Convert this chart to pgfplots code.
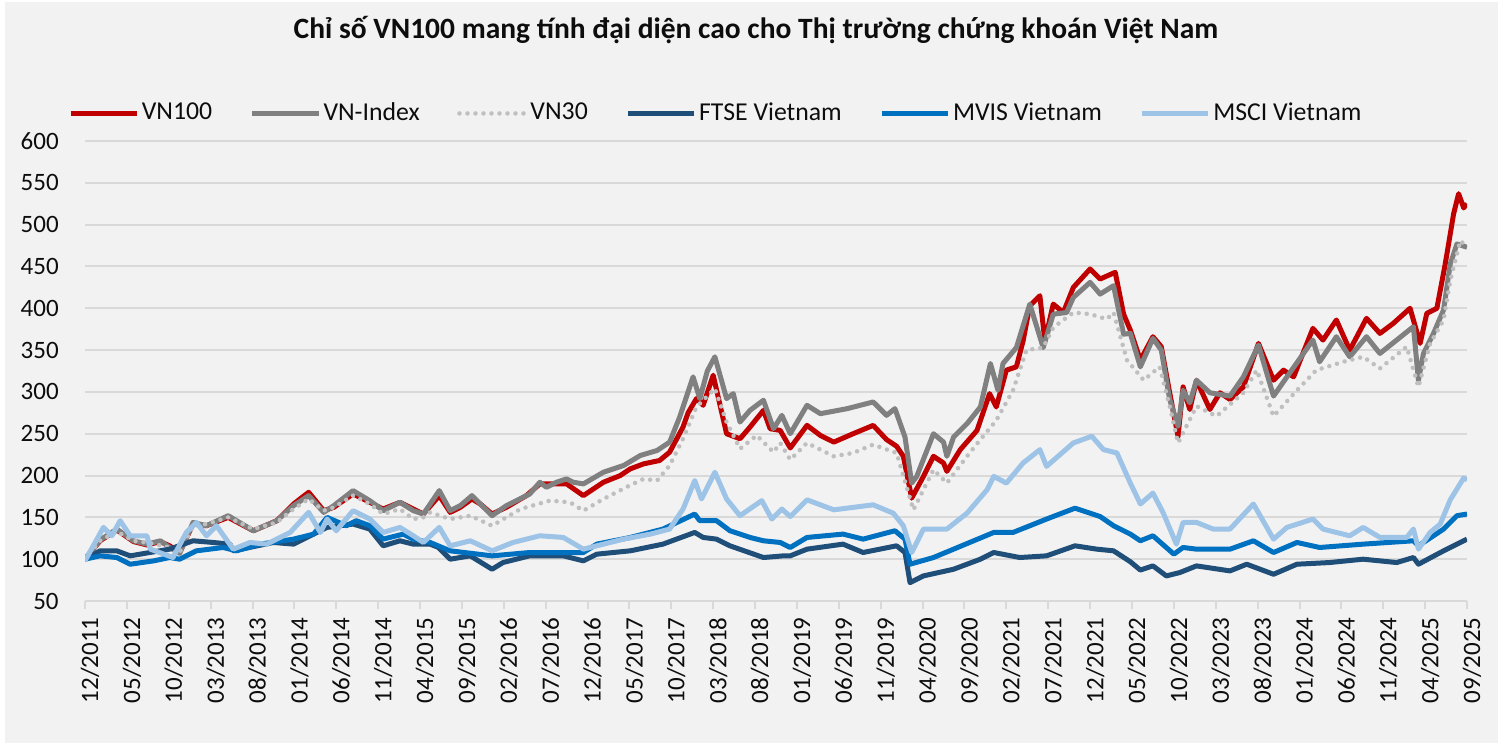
\documentclass[border=0pt]{standalone}
\usepackage{pgfplots}
\pgfplotsset{compat=1.18}
\usepackage{fontspec}
\setmainfont{Carlito}
\definecolor{bgc}{HTML}{F2F2F2}
\definecolor{gridc}{HTML}{D9D9D9}
\definecolor{cvn}{HTML}{C00000}
\definecolor{cidx}{HTML}{808080}
\definecolor{cvn30}{HTML}{BFBFBF}
\definecolor{cftse}{HTML}{1F4E79}
\definecolor{cmvis}{HTML}{0070C0}
\definecolor{cmsci}{HTML}{9DC3E6}
\definecolor{txt}{HTML}{0D0D0D}
\begin{document}
\begin{tikzpicture}
\useasboundingbox (0pt,0pt) rectangle (601.2pt,298pt);
\fill[white] (0pt,0pt) rectangle (601.2pt,298pt);
\fill[bgc] (2pt,0.8pt) rectangle (599.2pt,297.2pt);
\node[text=txt,font=\fontsize{11.8}{14}\selectfont\bfseries] at (302.4pt,286pt) {Chỉ số VN100 mang tính đại diện cao cho Thị trường chứng khoán Việt Nam};
\begin{axis}[
  at={(34pt,57.6pt)}, anchor=south west,
  scale only axis, width=552.8pt, height=184pt,
  xmin=0, xmax=165, ymin=50, ymax=600,
  ytick={50,100,...,600},
  xtick={0,5,...,165},
  xticklabels={12/2011,05/2012,10/2012,03/2013,08/2013,01/2014,06/2014,11/2014,04/2015,09/2015,02/2016,07/2016,12/2016,05/2017,10/2017,03/2018,08/2018,01/2019,06/2019,11/2019,04/2020,09/2020,02/2021,07/2021,12/2021,05/2022,10/2022,03/2023,08/2023,01/2024,06/2024,11/2024,04/2025,09/2025},
  axis lines*=left,
  axis line style={-},
  y axis line style={draw=none},
  x axis line style={draw=gridc, line width=0.8pt},
  ymajorgrids, major grid style={draw=gridc, line width=0.8pt},
  ytick style={draw=none},
  xtick style={draw=gridc, line width=0.8pt},
  tick align=outside, major tick length=3pt,
  /pgf/number format/assume math mode=true,
  tick label style={font=\fontsize{10}{12}\selectfont, text=txt},
  yticklabel style={xshift=-4pt},
  xticklabel style={rotate=90, anchor=east, xshift=0pt, yshift=-2pt},
  legend columns=6,
  legend cell align=left,
  legend style={draw=none, fill=none, at={(-0.018,1.06)}, anchor=west,
    font=\fontsize{10.3}{12}\selectfont, text=txt,
    /tikz/every odd column/.append style={column sep=-1pt},
    /tikz/every even column/.append style={column sep=13pt}},
  legend image code/.code={\draw[#1] (0pt,0pt) -- (26.5pt,0pt);},
  line join=round,
]
\addplot[cvn, line width=2pt] coordinates {
(0,100)(1.8,122)(3.8,135)(5.8,121)(7.4,117)(9,121)(10.1,116)(11.3,108)(12.9,142)(14.5,140)(17.1,150)(20.1,134)(22.9,146)(24.9,166)(26.7,180)(28.5,158)(29.7,162)(32.0,178)(34.0,168)(35.6,160)(37.6,168)(39.2,160)(40.4,154)(42.3,176)(43.6,156)(44.8,162)(46.2,172)(47.2,166)(48.6,154)(50.3,162)(52.7,176)(54.3,190)(56.3,190)(57.5,190)(59.5,176)(61.9,192)(63.9,200)(65.1,208)(66.7,214)(68.6,218)(69.8,228)(71.4,258)(72.0,275)(73.0,292)(73.8,284)(75.0,320)(76.6,250)(78.2,244)(79.4,258)(81.0,278)(81.8,256)(83.0,254)(84.2,233)(86.2,260)(87.8,248)(89.4,240)(91.7,250)(94.1,260)(95.7,243)(96.9,235)(97.7,223)(98.7,173)(100.1,199)(101.3,223)(102.5,215)(102.9,205)(104.5,231)(106.5,254)(108.0,298)(108.8,282)(110.0,326)(111.2,330)(112.0,361)(112.8,403)(114.0,415)(114.6,361)(115.6,405)(116.8,395)(118.0,425)(120.0,447)(121.2,435)(123.0,443)(124.0,393)(124.8,374)(126.0,338)(127.5,366)(128.5,354)(129.5,299)(130.5,247)(131.1,306)(131.9,279)(132.7,314)(134.3,279)(135.5,299)(136.7,291)(138.3,306)(140.1,358)(141.9,314)(143.1,326)(144.3,318)(146.6,376)(147.8,362)(149.4,386)(151.0,350)(153.0,388)(154.6,370)(156.2,382)(158.2,400)(159.4,358)(160.2,394)(161.4,400)(162.4,453)(163.4,513)(164.0,537)(164.6,520)(165.0,525)
};
\addlegendentry{VN100}
\addplot[cidx, line width=2pt] coordinates {
(0,100)(1.8,123)(3.8,136)(5.8,122)(7.4,118)(9,122)(10.1,114)(11.3,107)(12.9,144)(14.5,140)(17.1,152)(20.1,134)(22.9,146)(24.9,164)(26.7,176)(28.5,156)(29.7,164)(32.0,182)(34.0,170)(35.6,158)(37.6,168)(39.2,158)(40.4,154)(42.3,182)(43.6,158)(44.8,164)(46.2,176)(47.2,166)(48.6,152)(50.3,164)(51.9,172)(53.1,178)(54.3,192)(55.1,186)(56.3,192)(57.5,196)(58.3,192)(59.5,190)(61.9,204)(64.3,212)(66.3,224)(68.3,230)(69.8,240)(71.0,270)(72.0,300)(72.6,318)(73.4,292)(74.3,325)(75.2,342)(76.6,292)(77.4,298)(78.2,264)(79.4,278)(81.0,290)(82.2,256)(83.2,272)(84.2,250)(86.2,284)(87.8,274)(91.0,280)(94.1,288)(95.7,272)(96.7,280)(97.9,246)(98.7,191)(99.3,199)(101.3,250)(102.5,240)(102.9,223)(103.7,246)(105.3,262)(106.9,282)(108.1,334)(109.0,302)(109.6,334)(111.2,353)(112.8,405)(114.4,353)(115.6,393)(117.2,395)(118.0,413)(120.0,431)(121.2,417)(122.8,427)(124.0,369)(124.8,370)(126.0,330)(127.5,364)(128.5,350)(129.5,291)(130.5,259)(131.1,302)(131.9,287)(132.7,314)(134.3,299)(136.7,295)(138.3,318)(140.1,356)(141.9,295)(143.5,318)(146.6,362)(147.4,336)(149.4,366)(151.0,342)(153.0,366)(154.6,346)(156.6,362)(158.6,378)(159.2,314)(159.8,346)(161.0,370)(162.2,398)(163.0,453)(163.8,477)(165.0,473)
};
\addlegendentry{VN-Index}
\addplot[cvn30, line width=1.8pt, line cap=round, dash pattern=on 0pt off 3.2pt] coordinates {
(0,100)(1.8,122)(3.8,133)(5.8,122)(7.4,120)(10.1,114)(11.3,108)(12.9,140)(14.5,142)(17.1,150)(20.1,136)(22.9,144)(24.9,160)(26.7,172)(28.5,158)(29.7,162)(32.0,176)(34.0,166)(35.6,154)(37.6,160)(39.2,148)(40.4,150)(41.2,156)(43.6,148)(46.0,152)(48.6,140)(52.0,160)(55.5,170)(57.9,168)(59.5,158)(61.9,172)(65.0,188)(66.7,196)(68.3,194)(69.8,212)(71.4,244)(73.0,282)(75.2,304)(76.6,264)(78.2,232)(80.2,248)(82.2,228)(83.0,239)(84.2,219)(86.2,239)(89.4,223)(91.7,227)(94.1,237)(96.9,227)(98.9,159)(100.1,183)(101.3,207)(102.9,191)(105.3,223)(106.9,243)(108.8,266)(110.8,302)(112.4,350)(114.4,353)(115.6,377)(118.0,395)(120.0,393)(122.0,387)(122.8,395)(124.4,338)(126.4,314)(128.3,330)(129.5,283)(130.5,239)(132.7,283)(135.1,271)(138.3,299)(139.9,326)(141.9,271)(144.7,302)(147.0,326)(150.2,336)(152.6,342)(154.6,328)(157.8,354)(159.2,306)(160.6,358)(162.2,386)(163.0,433)(164.2,481)(165.0,473)
};
\addlegendentry{VN30}
\addplot[cftse, line width=2pt] coordinates {
(0,100)(1.8,110)(3.8,110)(5.4,104)(10.1,112)(12.9,122)(15.3,120)(17.3,118)(17.7,110)(22.5,120)(24.9,118)(27.3,130)(28.9,138)(32.0,142)(34.0,136)(35.6,116)(37.6,122)(39.2,118)(41.2,118)(42.2,114)(43.6,100)(46.0,104)(48.6,88)(49.9,96)(53.1,104)(57.1,104)(59.5,98)(61.1,106)(65.1,110)(69.0,118)(72.8,132)(73.8,126)(75.4,124)(77.0,116)(81.0,102)(83.4,104)(84.2,104)(86.2,112)(90.5,118)(92.9,108)(96.9,116)(97.9,108)(98.5,72)(100.1,80)(103.7,88)(106.9,100)(108.5,108)(111.6,102)(114.8,104)(118.2,116)(120.8,112)(122.8,110)(124.8,97)(126.0,87)(127.5,92)(129.1,80)(130.7,84)(132.7,92)(136.7,86)(138.7,94)(141.9,82)(144.7,94)(148.6,96)(152.6,100)(156.6,96)(158.6,102)(159.2,94)(162.2,110)(165.0,124)
};
\addlegendentry{FTSE Vietnam}
\addplot[cmvis, line width=2pt] coordinates {
(0,100)(1.8,104)(3.8,102)(5.4,94)(8.2,98)(10.1,102)(11.3,100)(13.3,110)(16.5,114)(18.1,110)(20.9,118)(24.9,124)(27.3,130)(28.9,150)(31.2,140)(32.4,146)(34.0,140)(35.6,124)(38.0,130)(39.2,124)(41.2,120)(43.6,110)(48.6,104)(53.1,108)(59.5,108)(61.1,118)(65.1,126)(69.0,136)(72.8,154)(73.4,146)(75.4,146)(77.0,134)(79.4,126)(81.0,122)(83.0,120)(84.2,114)(86.2,126)(90.5,130)(92.9,124)(96.7,134)(97.9,124)(98.5,94)(101.3,102)(103.7,112)(108.5,132)(110.8,132)(114.8,148)(118.2,161)(120.0,155)(121.2,151)(122.8,140)(124.8,130)(126.0,122)(127.5,128)(130.0,106)(131.1,114)(132.7,112)(136.7,112)(139.5,122)(141.9,108)(144.7,120)(147.4,114)(152.6,118)(158.6,122)(159.2,116)(162.2,136)(163.8,152)(165.0,154)
};
\addlegendentry{MVIS Vietnam}
\addplot[cmsci, line width=2pt] coordinates {
(0,98)(2.2,138)(3.2,128)(4.2,146)(5.4,128)(7.4,128)(7.8,112)(10.5,102)(12.1,132)(13.3,144)(14.5,128)(15.7,140)(17.7,112)(19.7,120)(21.7,118)(24.5,132)(26.7,156)(28.1,132)(28.9,148)(30.0,134)(32.0,158)(34.0,148)(35.6,132)(37.6,138)(39.2,128)(40.4,120)(42.3,138)(43.6,116)(46.0,122)(48.6,110)(51.1,120)(54.3,128)(57.1,126)(59.5,112)(61.9,118)(64.3,124)(67.5,130)(69.8,136)(71.4,160)(72.8,194)(73.6,172)(75.2,204)(76.6,172)(78.2,152)(80.8,170)(82.0,148)(83.2,160)(84.2,151)(86.2,171)(89.4,159)(94.1,165)(96.5,155)(97.7,140)(98.7,108)(100.1,136)(102.9,136)(105.3,155)(107.7,183)(108.5,199)(110.0,191)(112.0,215)(114.0,231)(114.8,211)(118.0,239)(120.2,247)(121.6,231)(123.2,227)(124.8,191)(126.0,166)(127.5,179)(128.7,156)(130.3,118)(131.1,144)(132.7,144)(134.7,136)(136.7,136)(139.5,166)(141.9,124)(143.5,138)(146.6,148)(147.8,136)(151.0,128)(152.6,138)(154.6,126)(157.8,126)(158.6,136)(159.2,112)(160.6,132)(161.8,142)(163.0,171)(164.6,197)(165.0,195)
};
\addlegendentry{MSCI Vietnam}
\end{axis}
\end{tikzpicture}
\end{document}
